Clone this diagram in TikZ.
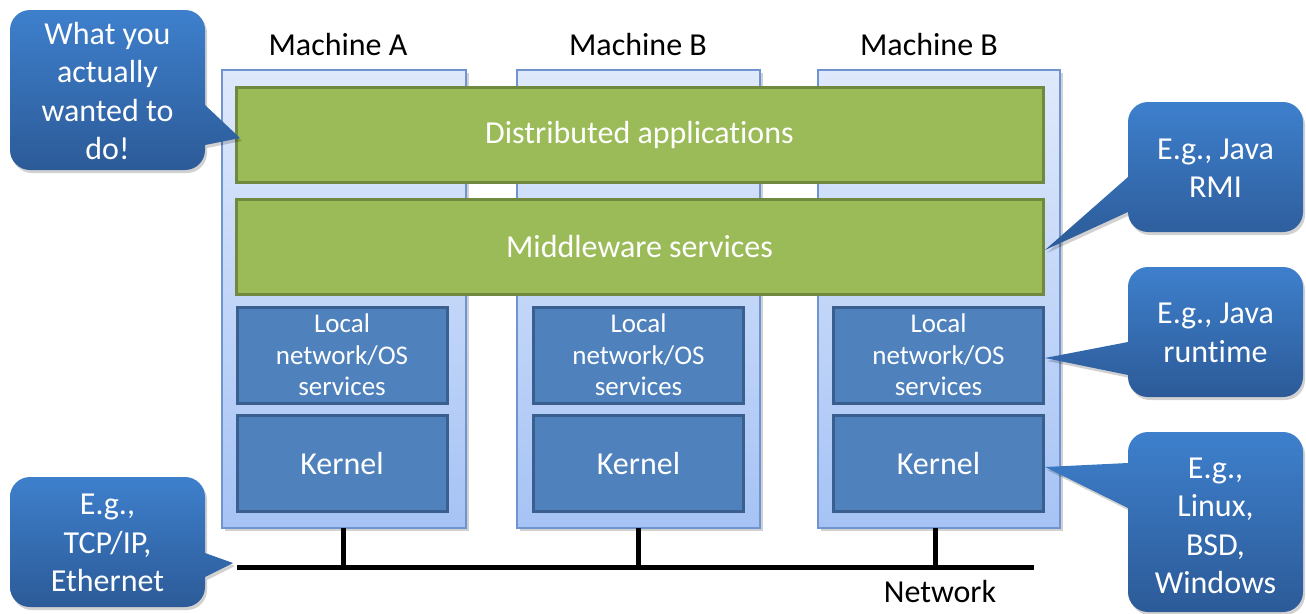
\documentclass[tikz,border=0pt]{standalone}
\usepackage{fontspec}
\setmainfont{Carlito}[Ligatures=NoCommon]
\definecolor{frTop}{HTML}{DFE9FB}
\definecolor{frBot}{HTML}{A6C3F5}
\definecolor{frLine}{HTML}{6F94D0}
\definecolor{grFill}{HTML}{9BBB59}
\definecolor{grLine}{HTML}{71893F}
\definecolor{blFill}{HTML}{4F81BD}
\definecolor{blLine}{HTML}{3A5F8E}
\definecolor{cTop}{HTML}{3E80CD}
\definecolor{cBot}{HTML}{2C5A97}
\begin{document}
\begin{tikzpicture}[x=1pt,y=-1pt,
  big/.style={font=\fontsize{32}{38.5}\selectfont},
  frame/.style={draw=frLine,line width=1.5pt,top color=frTop,bottom color=frBot,inner sep=0pt,outer sep=0pt},
  greenbar/.style={draw=grLine,line width=3pt,fill=grFill,inner sep=0pt,outer sep=0pt,minimum width=807pt,minimum height=95pt,text=white,big},
  bluebox/.style={draw=blLine,line width=3pt,fill=blFill,inner sep=0pt,outer sep=0pt,minimum width=210pt,minimum height=96pt,text=white},
  localtxt/.style={font=\fontsize{27}{31.5}\selectfont,align=center},
  calltext/.style={text=white,big,align=center,inner sep=0pt},
  label/.style={big,text=black,inner sep=0pt},
  net/.style={line width=5pt,black},
  shadowc/.style={fill=black,opacity=0.18}]
\useasboundingbox (0,0) rectangle (1306,613);

% machine frames with shadows
\fill[shadowc] (225,73) rectangle (469,531);
\fill[shadowc] (520,73) rectangle (763,531);
\fill[shadowc] (821,73) rectangle (1063,531);
\node[frame,minimum width=244pt,minimum height=458pt] (mA) at (344,299) {};
\node[frame,minimum width=243pt,minimum height=458pt] (mB) at (638.5,299) {};
\node[frame,minimum width=242pt,minimum height=458pt] (mC) at (939,299) {};

\node[label] (lA) at (338,45) {Machine A};
\node[label] (lB) at (638,45) {Machine B};
\node[label] (lC) at (929,45) {Machine B};

% green layers
\node[greenbar] (dist) at (639.5,134.5) {Distributed applications};
\node[greenbar] (mid) at (639.5,246.5) {Middleware services};

% blue boxes
\node[bluebox] (locA) at (342,355) {};
\node[localtxt,text=white] at (locA) {Local\\network/OS\\services};
\node[bluebox] (locB) at (638.5,355) {};
\node[localtxt,text=white] at (locB) {Local\\network/OS\\services};
\node[bluebox] (locC) at (938.5,355) {};
\node[localtxt,text=white] at (locC) {Local\\network/OS\\services};
\node[bluebox,big] (kA) at (342,463.5) {Kernel};
\node[bluebox,big] (kB) at (638.5,463.5) {Kernel};
\node[bluebox,big] (kC) at (938.5,463.5) {Kernel};

% network
\coordinate (nL) at (237,567);
\coordinate (nR) at (1034,567);
\draw[net] (nL) -- (nR);
\draw[net] ([xshift=-1pt]mA.south) -- ([xshift=-1pt]mA.south |- nL);
\draw[net] (mB.south) -- (mB.south |- nL);
\draw[net] ([xshift=-4pt]mC.south) -- ([xshift=-4pt]mC.south |- nL);
\node[label] (netl) at (940,591) {Network};

% callout 1: What you actually wanted to do
\fill[shadowc] [shift={(2,3)}] [rounded corners=20pt] (10,10) rectangle (205,170) [sharp corners] (205,105) -- (240,138) -- (205,145) -- cycle;
\begin{scope}
\clip [rounded corners=20pt] (10,10) rectangle (205,170) [sharp corners] (205,105) -- (240,138) -- (205,145) -- cycle;
\shade[top color=cTop,bottom color=cBot] (8,8) rectangle (242,172);
\end{scope}
\node[calltext] (c1) at (107.5,91) {What you\\actually\\wanted to\\do!};

% callout 2: Java RMI
\fill[shadowc] [shift={(2,3)}] [rounded corners=20pt] (1128,102) rectangle (1303,232) [sharp corners] (1128,177) -- (1045,250) -- (1128,212) -- cycle;
\begin{scope}
\clip [rounded corners=20pt] (1128,102) rectangle (1303,232) [sharp corners] (1128,177) -- (1045,250) -- (1128,212) -- cycle;
\shade[top color=cTop,bottom color=cBot] (1040,100) rectangle (1306,252);
\end{scope}
\node[calltext] (c2) at (1215.5,168) {E.g., Java\\RMI};

% callout 3: Java runtime
\fill[shadowc] [shift={(2,3)}] [rounded corners=20pt] (1128,267) rectangle (1303,397) [sharp corners] (1128,342) -- (1045,358) -- (1128,375) -- cycle;
\begin{scope}
\clip [rounded corners=20pt] (1128,267) rectangle (1303,397) [sharp corners] (1128,342) -- (1045,358) -- (1128,375) -- cycle;
\shade[top color=cTop,bottom color=cBot] (1040,265) rectangle (1306,399);
\end{scope}
\node[calltext] (c3) at (1215.5,333) {E.g., Java\\runtime};

% callout 4: Linux BSD Windows
\fill[shadowc] [shift={(2,3)}] [rounded corners=20pt] (1128,432) rectangle (1303,612) [sharp corners] (1128,463) -- (1045,467) -- (1128,508) -- cycle;
\begin{scope}
\clip [rounded corners=20pt] (1128,432) rectangle (1303,612) [sharp corners] (1128,463) -- (1045,467) -- (1128,508) -- cycle;
\shade[top color=cTop,bottom color=cBot] (1040,430) rectangle (1306,614);
\end{scope}
\node[calltext] (c4) at (1215.5,526) {E.g.,\\Linux,\\BSD,\\Windows};

% callout 5: TCP/IP Ethernet
\fill[shadowc] [shift={(2,3)}] [rounded corners=20pt] (10,477) rectangle (205,607) [sharp corners] (205,553) -- (233,563) -- (205,577) -- cycle;
\begin{scope}
\clip [rounded corners=20pt] (10,477) rectangle (205,607) [sharp corners] (205,553) -- (233,563) -- (205,577) -- cycle;
\shade[top color=cTop,bottom color=cBot] (8,475) rectangle (235,609);
\end{scope}
\node[calltext] (c5) at (107.5,543) {E.g.,\\TCP/IP,\\Ethernet};
\end{tikzpicture}
\end{document}
